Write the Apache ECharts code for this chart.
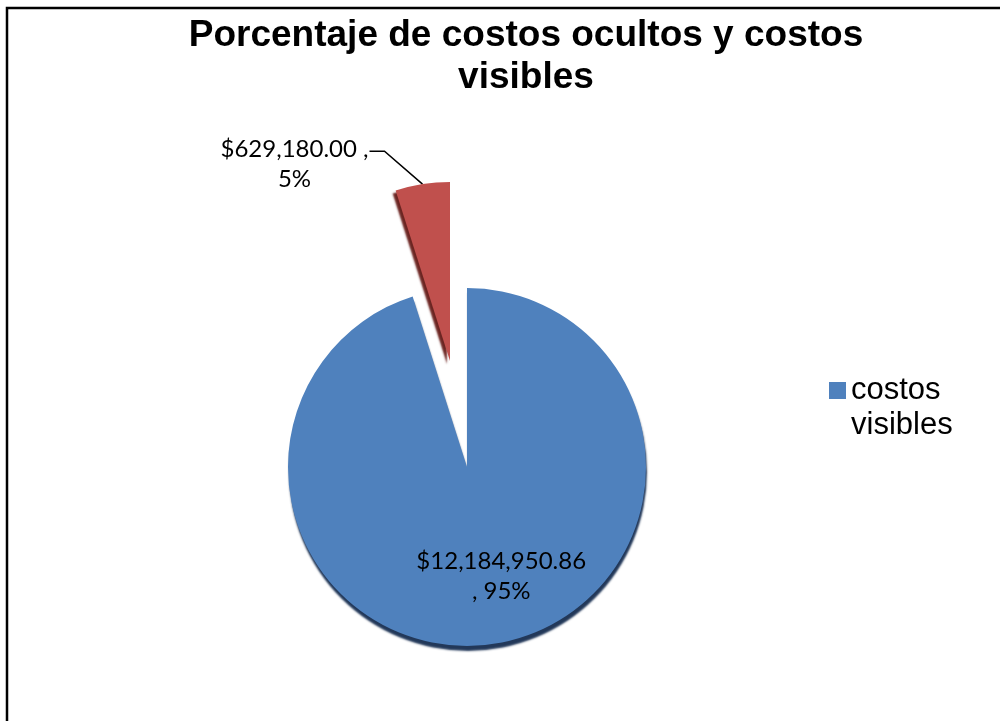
<!DOCTYPE html>
<html>
<head>
<meta charset="utf-8">
<script src="https://cdn.jsdelivr.net/npm/echarts@6/dist/echarts.min.js"></script>
<style>
  html, body { margin: 0; padding: 0; background: #ffffff; }
  #chart { width: 1000px; height: 721px; }
</style>
</head>
<body>
<div id="chart"></div>
<script>
// Cost breakdown: visible vs hidden costs
const categories = ['costos visibles', 'costos ocultos'];
const amounts = [12184950.86, 629180.00];
const percentLabels = ['95%', '5%'];
const legendItems = ['costos visibles'];
const titleText = 'Porcentaje de costos ocultos y costos\nvisibles';

const sliceColors = ['#4f81bd', '#c0504d'];
const rimColors = ['rgba(22,45,80,0.95)', 'rgba(100,25,22,0.95)'];

function money(v) {
  return '$' + v.toLocaleString('en-US', { minimumFractionDigits: 2, maximumFractionDigits: 2 });
}

// Each pie series draws one visible slice; the other slice is kept as a
// transparent spacer so both series share the same angles. The second
// series uses a shifted centre to pull the small slice out of the pie.
function sliceData(visibleIndex) {
  return categories.map((name, i) => {
    const shown = i === visibleIndex;
    return {
      name: name,
      value: amounts[i],
      itemStyle: shown ? {
        color: sliceColors[i],
        shadowColor: rimColors[i],
        shadowBlur: 2,
        shadowOffsetX: i === 1 ? -3 : 1,
        shadowOffsetY: i === 1 ? 3 : 5
      } : { color: 'rgba(0,0,0,0)' },
      label: shown ? {
        show: true,
        position: i === 0 ? 'inside' : 'outside',
        formatter: i === 0
          ? money(amounts[i]) + '\n, ' + percentLabels[i]
          : money(amounts[i]) + ' ,\n' + percentLabels[i]
      } : { show: false },
      labelLine: { show: shown && i === 1 }
    };
  });
}

const commonSeries = {
  type: 'pie',
  radius: 179,
  startAngle: 90,
  clockwise: true,
  silent: true,
  avoidLabelOverlap: false,
  emphasis: { disabled: true },
  label: {
    color: '#000000',
    fontFamily: 'Lato, sans-serif',
    fontSize: 24,
    lineHeight: 30,
    align: 'center'
  },
  labelLine: {
    length: 10,
    length2: 16,
    lineStyle: { color: '#000000', width: 1.5 }
  }
};

const chart = echarts.init(document.getElementById('chart'), null, { renderer: 'canvas' });

chart.setOption({
  animation: false,
  backgroundColor: '#ffffff',
  title: {
    text: titleText,
    left: 526,
    textAlign: 'center',
    top: 15,
    padding: 0,
    textStyle: {
      fontFamily: 'Liberation Sans, Arial, sans-serif',
      fontWeight: 'bold',
      fontSize: 37,
      lineHeight: 42,
      color: '#000000'
    }
  },
  legend: {
    data: legendItems,
    orient: 'vertical',
    left: 829,
    top: 338,
    padding: 0,
    icon: 'rect',
    itemWidth: 17,
    itemHeight: 17,
    selectedMode: false,
    formatter: (name) => '\n' + name.replace(' ', '\n'),
    textStyle: {
      fontFamily: 'Liberation Sans, Arial, sans-serif',
      fontSize: 31,
      lineHeight: 35,
      color: '#000000'
    }
  },
  graphic: [{
    type: 'rect',
    silent: true,
    shape: { x: 7, y: 8, width: 1100, height: 1000 },
    style: { fill: 'none', stroke: '#000000', lineWidth: 2.5 }
  }],
  series: [
    Object.assign({}, commonSeries, {
      name: 'visibles',
      center: [467, 467],
      data: sliceData(0),
      labelLayout: function () {
        return { dx: 20, dy: 18 };
      }
    }),
    Object.assign({}, commonSeries, {
      name: 'ocultos',
      center: [450, 361],
      data: sliceData(1),
      labelLayout: function (params) {
        const a = params.labelLinePoints ? params.labelLinePoints[0] : null;
        if (!a) return {};
        const bend = [a[0] - 38, a[1] - 33];
        const end = [bend[0] - 15, bend[1]];
        return {
          x: end[0] - 75,
          y: end[1] + 13,
          align: 'center',
          verticalAlign: 'middle',
          labelLinePoints: [a, bend, end]
        };
      }
    })
  ]
});
</script>
</body>
</html>
